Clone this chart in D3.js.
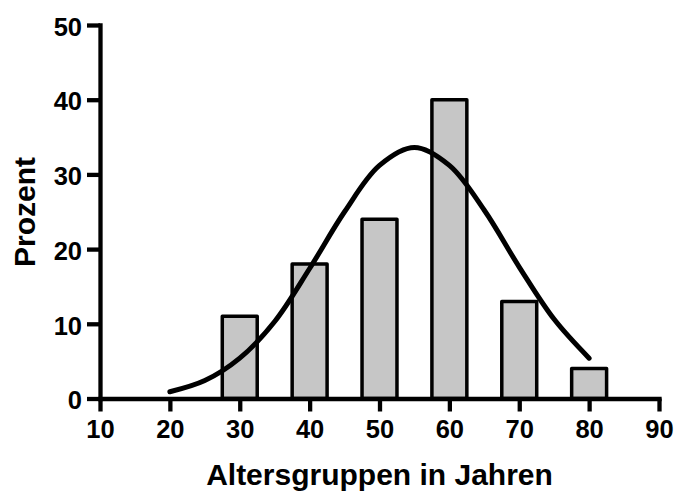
<!DOCTYPE html>
<html>
<head>
<meta charset="utf-8">
<script src="https://cdn.jsdelivr.net/npm/d3@7"></script>
<style>
  html, body { margin: 0; padding: 0; background: #fff; }
  svg { display: block; }
  text { font-family: "Liberation Sans", Arial, Helvetica, sans-serif; font-weight: bold; fill: #000; }
</style>
</head>
<body>
<svg id="chart" width="676" height="493"></svg>
<script>
// Histogram: share of people per age group (percent)
const ageGroups = [30, 40, 50, 60, 70, 80];
const percents = [11, 18, 24, 40, 13, 4];
const binWidth = 5; // years covered by each bar

// Fitted normal curve, read at 5-year steps
const curveAges = [20, 25, 30, 35, 40, 45, 50, 55, 60, 65, 70, 75, 80];
const curveValues = [0.9, 2.4, 5.4, 10.3, 17.4, 25.0, 31.2, 33.6, 31.2, 25.2, 17.6, 10.6, 5.4];

const xTicks = [10, 20, 30, 40, 50, 60, 70, 80, 90];
const yTicks = [0, 10, 20, 30, 40, 50];

const svg = d3.select("#chart");

const x = d3.scaleLinear().domain([10, 90]).range([100, 659]);
const y = d3.scaleLinear().domain([0, 50]).range([398.5, 25]);

// Bars
svg.append("g")
  .selectAll("rect")
  .data(ageGroups)
  .join("rect")
  .attr("x", (d) => x(d - binWidth / 2))
  .attr("width", (d) => x(d + binWidth / 2) - x(d - binWidth / 2))
  .attr("y", (d, i) => y(percents[i]))
  .attr("height", (d, i) => y(0) - y(percents[i]))
  .attr("fill", "#c6c6c6")
  .attr("stroke", "#000")
  .attr("stroke-width", 3.5)
  .attr("stroke-linejoin", "round");

// Fitted curve
const line = d3.line()
  .x((d, i) => x(curveAges[i]))
  .y((d) => y(d))
  .curve(d3.curveCatmullRom.alpha(0.5));

svg.append("path")
  .datum(curveValues)
  .attr("d", line)
  .attr("fill", "none")
  .attr("stroke", "#000")
  .attr("stroke-width", 5)
  .attr("stroke-linecap", "round");

// Axes
function styleAxis(g) {
  g.selectAll("path.domain").attr("stroke", "#000").attr("stroke-width", 4.3).attr("stroke-linecap", "square");
  g.selectAll(".tick line").attr("stroke", "#000").attr("stroke-width", 4.3);
  g.selectAll(".tick text").style("font-size", "25.5px");
  g.attr("font-family", null).attr("font-size", null);
}

svg.append("g")
  .attr("transform", `translate(0,${y(0)})`)
  .call(d3.axisBottom(x).tickValues(xTicks).tickFormat(d3.format("d"))
    .tickSize(13).tickSizeOuter(0).tickPadding(8))
  .call(styleAxis);

const yAxis = svg.append("g")
  .attr("transform", `translate(${x(10)},0)`)
  .call(d3.axisLeft(y).tickValues(yTicks).tickFormat(d3.format("d"))
    .tickSize(13).tickSizeOuter(0).tickPadding(5))
  .call(styleAxis);
yAxis.selectAll(".tick text").attr("dy", "0.4em");

// Axis titles
svg.append("text")
  .attr("x", (x(10) + x(90)) / 2)
  .attr("y", 485)
  .attr("text-anchor", "middle")
  .style("font-size", "30px")
  .text("Altersgruppen in Jahren");

svg.append("text")
  .attr("transform", "translate(35,212) rotate(-90)")
  .attr("text-anchor", "middle")
  .style("font-size", "30px")
  .text("Prozent");
</script>
</body>
</html>
